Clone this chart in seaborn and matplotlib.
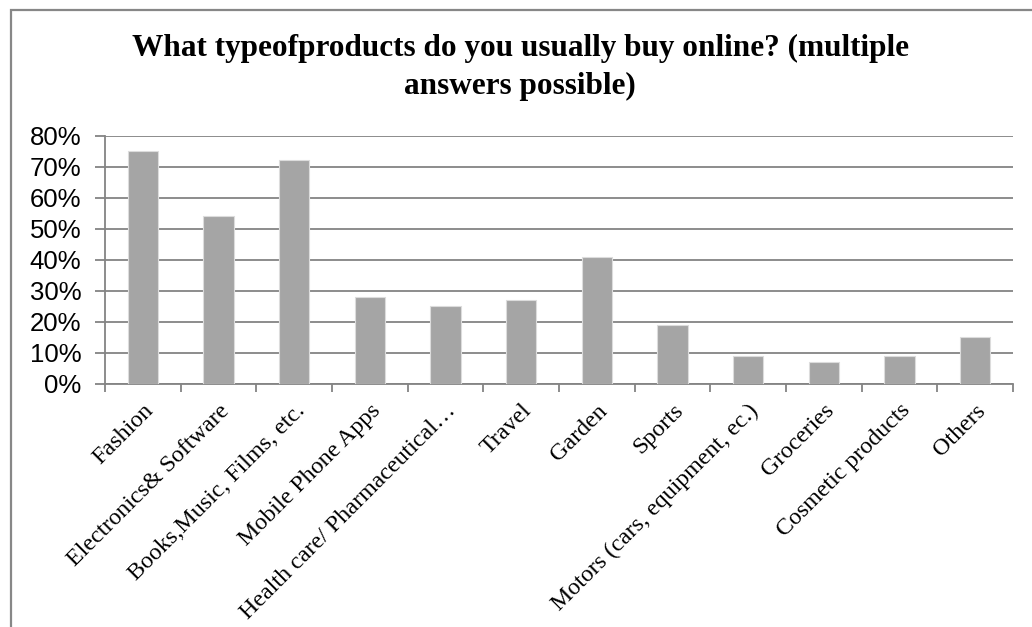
import matplotlib
matplotlib.use("Agg")
import matplotlib.pyplot as plt
from matplotlib.patches import Rectangle
from matplotlib.ticker import FixedLocator, PercentFormatter
import seaborn as sns
import pandas as pd

# Survey answers: share of respondents buying each product type online
categories = [
    "Fashion",
    "Electronics& Software",
    "Books,Music, Films, etc.",
    "Mobile Phone Apps",
    "Health care/ Pharmaceutical\u2026",
    "Travel",
    "Garden",
    "Sports",
    "Motors (cars, equipment, ec.)",
    "Groceries",
    "Cosmetic products",
    "Others",
]
shares = [0.75, 0.54, 0.72, 0.28, 0.25, 0.27, 0.41, 0.19, 0.09, 0.07, 0.09, 0.15]
y_ticks = [0.0, 0.1, 0.2, 0.3, 0.4, 0.5, 0.6, 0.7, 0.8]
title = "What typeofproducts do you usually buy online? (multiple\nanswers possible)"

df = pd.DataFrame({"category": categories, "share": shares})

sns.set_theme(style="white")
plt.rcParams["font.family"] = ["Liberation Sans", "DejaVu Sans"]

W, H = 1032, 627
fig = plt.figure(figsize=(W / 100, H / 100), dpi=100)
fig.patch.set_facecolor("white")

# outer frame of the chart object (open on the right and bottom)
frame_color = "#878787"
fig.add_artist(Rectangle((10.5 / W, -0.1), 1.2, 1 - 9.5 / H + 0.1,
                         transform=fig.transFigure, fill=False,
                         edgecolor=frame_color, linewidth=1.6))

ax = fig.add_axes([105 / W, 1 - 383.5 / H, (1013 - 105) / W, (383.5 - 135.7) / H])

sns.barplot(data=df, x="category", y="share", order=categories, color="#a5a5a5",
            saturation=1, width=0.4, edgecolor="#dcdcdc", linewidth=0.8,
            ax=ax, zorder=3)

grid_color = "#848484"
ax.set_ylim(0, 0.8)
ax.set_xlim(-0.5, len(categories) - 0.5)
ax.yaxis.set_major_locator(FixedLocator(y_ticks))
ax.yaxis.set_major_formatter(PercentFormatter(1.0, decimals=0))
ax.grid(axis="y", color=grid_color, linewidth=1.3, zorder=0)
ax.set_axisbelow(True)

for side in ("top", "right"):
    ax.spines[side].set_visible(False)
for side in ("left", "bottom"):
    ax.spines[side].set_color(grid_color)
    ax.spines[side].set_linewidth(1.3)

ax.set_xlabel("")
ax.set_ylabel("")

# category boundaries carry the tick marks; labels sit at the bar centres
ax.set_xticks([i - 0.5 for i in range(len(categories) + 1)], minor=True)
ax.tick_params(axis="x", which="minor", length=6, width=1.3, color=grid_color,
               direction="out", bottom=True)
ax.tick_params(axis="x", which="major", length=0, pad=12)
ax.tick_params(axis="y", which="major", length=7, width=1.3, color=grid_color,
               direction="out", left=True, pad=10)

for lab in ax.get_yticklabels():
    lab.set_fontsize(18.5)
    lab.set_color("black")

ax.set_xticks(range(len(categories)))
ax.set_xticklabels(categories, rotation=45, ha="right", rotation_mode="anchor",
                   fontsize=17.3, family=["Liberation Serif", "DejaVu Serif"],
                   color="black")

fig.text(520 / W, 1 - 34 / H, title, ha="center", va="top", fontsize=22.5,
         fontweight="bold", family=["Liberation Serif", "DejaVu Serif"],
         linespacing=1.4, color="black")

fig.savefig("out.png", dpi=100, facecolor="white")
